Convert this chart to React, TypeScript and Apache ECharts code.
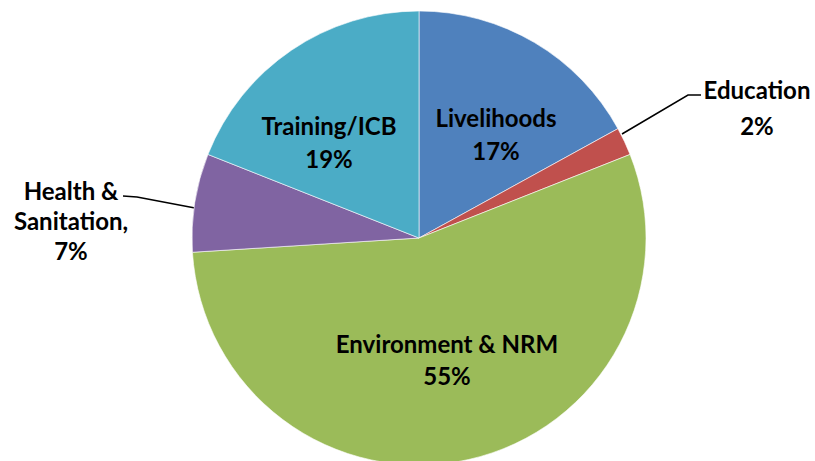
import React, { useEffect, useRef } from "react";
import * as echarts from "echarts";

const categories = ["Livelihoods", "Education", "Environment & NRM", "Health & Sanitation", "Training/ICB"];
const labelNames = ["Livelihoods", "Education", "Environment & NRM", "Health &\nSanitation,", "Training/ICB"];
const values = [17, 2, 55, 7, 19];
const colors = ["#4F81BD", "#C0504D", "#9BBB59", "#8064A2", "#4BACC6"];
const outsideLabel = [false, true, false, true, false];

// label layout (positions of label centres, line heights and leader lines)
const labelPos: Array<{ x: number; y: number; lh: number; line?: number[][] }> = [
  { x: 496, y: 134, lh: 33 },
  { x: 757, y: 107, lh: 36, line: [[622, 134], [688, 95], [701, 95]] },
  { x: 447, y: 359, lh: 32 },
  { x: 71, y: 220, lh: 30, line: [[195, 208], [137, 197], [123, 196]] },
  { x: 329, y: 142, lh: 33 },
];

export default function App() {
  const ref = useRef<HTMLDivElement>(null);
  useEffect(() => {
    if (!ref.current) return;
    const chart = echarts.init(ref.current, undefined, { renderer: "svg" });
    chart.setOption({
      animation: false,
      backgroundColor: "#ffffff",
      series: [
        {
          type: "pie",
          center: [419, 238],
          radius: 227,
          startAngle: 90,
          clockwise: true,
          avoidLabelOverlap: false,
          itemStyle: { borderColor: "#ffffff", borderWidth: 0.6 },
          label: {
            fontFamily: "Lato, 'Open Sans', sans-serif",
            fontWeight: "bold",
            fontSize: 24,
            lineHeight: 33,
            color: "#000000",
            align: "center",
            verticalAlign: "middle",
          },
          labelLine: { lineStyle: { color: "#000000", width: 1.5 } },
          labelLayout: (params: any) => {
            const p = labelPos[params.dataIndex];
            const r: any = { x: p.x, y: p.y, align: "center", verticalAlign: "middle" };
            if (p.line) r.labelLinePoints = p.line;
            return r;
          },
          data: categories.map((name, i) => ({
            name,
            value: values[i],
            itemStyle: { color: colors[i] },
            label: {
              show: true,
              position: outsideLabel[i] ? "outside" : "inside",
              lineHeight: labelPos[i].lh,
              formatter: () => `${labelNames[i]}\n${values[i]}%`,
            },
            labelLine: { show: outsideLabel[i] },
          })),
        },
      ],
    });
    return () => chart.dispose();
  }, []);
  return (
    <div
      ref={ref}
      style={{ position: "absolute", left: 0, top: 0, width: 815, height: 461 }}
    />
  );
}
